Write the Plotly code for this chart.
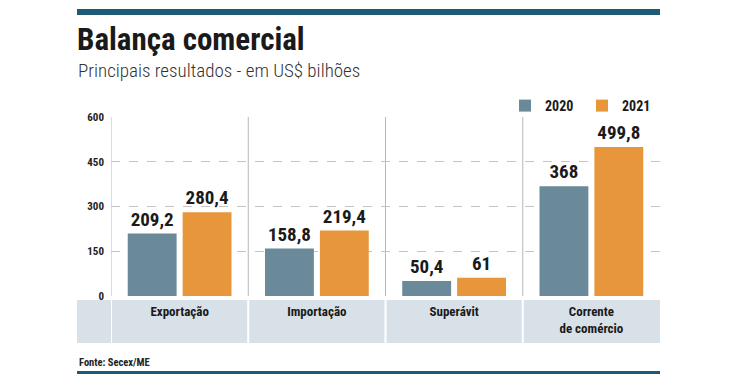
import plotly.graph_objects as go

categories = ["Exportação", "Importação", "Superávit", "Corrente<br>de comércio"]
values_2020 = [209.2, 158.8, 50.4, 368]
values_2021 = [280.4, 219.4, 61, 499.8]
series_names = ["2020", "2021"]
y_ticks = [0, 150, 300, 450, 600]

COLOR_2020 = "#6a8a9a"
COLOR_2021 = "#e8963c"
TEAL = "#1e5a78"
BAND = "#d9e1e8"
NARROW = "Roboto Condensed, Roboto, sans-serif"


def fmt(v):
    s = ("%g" % v)
    return s.replace(".", ",")


OFF = 8  # page body margin
W, H = 746 - OFF, 382 - OFF
ML = 111 - OFF
MT = 117 - OFF
MR = W - (660 - OFF)
MB = H - (296 - OFF)
PW = W - ML - MR
PH = H - MT - MB


def px_x(p):
    return (p - OFF - ML) / PW


def px_y(p):
    return (H - MB - (p - OFF)) / PH


fig = go.Figure()
for name, vals, col in [(series_names[0], values_2020, COLOR_2020),
                        (series_names[1], values_2021, COLOR_2021)]:
    fig.add_trace(go.Bar(
        x=categories, y=vals, name=name, marker_color=col,
        marker_line_width=0,
        text=[fmt(v) for v in vals], textposition="outside",
        textfont=dict(family=NARROW, size=19, color="#1a1a1a", weight="bold"),
        constraintext="none", cliponaxis=False,
        hoverinfo="skip",
    ))

shapes = []
shapes.append(dict(type="rect", xref="paper", yref="paper",
                   x0=px_x(77), x1=px_x(660), y0=px_y(9), y1=px_y(15),
                   fillcolor=TEAL, line_width=0, layer="above"))
shapes.append(dict(type="rect", xref="paper", yref="paper",
                   x0=px_x(77), x1=px_x(660), y0=px_y(371), y1=px_y(374),
                   fillcolor=TEAL, line_width=0, layer="above"))
shapes.append(dict(type="rect", xref="paper", yref="paper",
                   x0=px_x(77), x1=px_x(660), y0=px_y(300), y1=px_y(343),
                   fillcolor=BAND, line_width=0, layer="below"))
for xv in [-0.5, 0.5, 1.5, 2.5]:
    shapes.append(dict(type="line", xref="x", yref="paper",
                       x0=xv, x1=xv, y0=0, y1=1,
                       line=dict(color="#b8b8b8", width=1), layer="below"))
    shapes.append(dict(type="line", xref="x", yref="paper",
                       x0=xv, x1=xv, y0=px_y(300), y1=px_y(343),
                       line=dict(color="#ffffff", width=2), layer="above"))

annotations = [
    dict(text="<b>Balança comercial</b>", xref="paper", yref="paper",
         x=px_x(75), y=px_y(40), xanchor="left", yanchor="middle",
         showarrow=False,
         font=dict(family=NARROW, size=31, color="#1a1a1a", weight=900)),
    dict(text="Principais resultados - em US$ bilhões", xref="paper", yref="paper",
         x=px_x(76), y=px_y(70), xanchor="left", yanchor="middle",
         showarrow=False,
         font=dict(family=NARROW, size=19, color="#333333", weight=300)),
    dict(text="<b>Fonte: Secex/ME</b>", xref="paper", yref="paper",
         x=px_x(77), y=px_y(362), xanchor="left", yanchor="middle",
         showarrow=False,
         font=dict(family=NARROW, size=10.5, color="#222222")),
]

fig.update_layout(
    width=W, height=H,
    margin=dict(l=ML, r=MR, t=MT, b=MB, autoexpand=False),
    paper_bgcolor="white", plot_bgcolor="white",
    barmode="group", bargap=0.2, bargroupgap=0.11,
    showlegend=True,
    legend=dict(orientation="h", x=px_x(505), y=px_y(106),
                xanchor="left", yanchor="middle",
                entrywidth=32, entrywidthmode="pixels",
                font=dict(family=NARROW, size=14, color="#1a1a1a", weight="bold"),
                bgcolor="rgba(0,0,0,0)", itemclick=False, itemdoubleclick=False),
    xaxis=dict(type="category", range=[-0.5, 3.5], showgrid=False,
               showline=False, ticks="", zeroline=False,
               tickfont=dict(family=NARROW, size=13, color="#1a1a1a", weight="bold"),
               ticklabelstandoff=6),
    yaxis=dict(range=[0, 600], tickvals=y_ticks, showgrid=True,
               gridcolor="#c4c4c4", griddash="dash", gridwidth=1,
               zeroline=False, showline=False, ticks="",
               tickfont=dict(family=NARROW, size=11, color="#222222", weight="bold"),
               ticklabelstandoff=6),
    shapes=shapes, annotations=annotations,
)

fig.write_html("out.html")
